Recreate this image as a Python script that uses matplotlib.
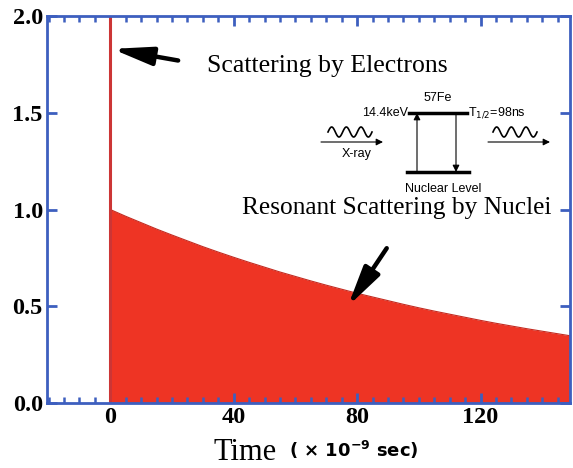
import numpy as np
import matplotlib
matplotlib.use("Agg")
import matplotlib.pyplot as plt
from matplotlib.patches import FancyArrowPatch

# ---- data ----
time_ns = [0, 5, 10, 15, 20, 25, 30, 35, 40, 45, 50, 55, 60, 65, 70, 75, 80,
           85, 90, 95, 100, 105, 110, 115, 120, 125, 130, 135, 140, 145, 150]
intensity = [1.00, 0.965, 0.932, 0.899, 0.868, 0.838, 0.808, 0.780, 0.753, 0.727,
             0.702, 0.677, 0.654, 0.631, 0.609, 0.588, 0.567, 0.548, 0.529, 0.510,
             0.492, 0.475, 0.459, 0.443, 0.427, 0.412, 0.398, 0.384, 0.371, 0.358,
             0.345]
electron_t = [0, 0]
electron_y = [0.0, 2.0]
x_ticks = [0, 40, 80, 120]
x_ticklabels = ['0', '40', '80', '120']
y_ticks = [0.0, 0.5, 1.0, 1.5, 2.0]
y_ticklabels = ['0.0', '0.5', '1.0', '1.5', '2.0']

W, H = 573, 468
fig = plt.figure(figsize=(W / 100, H / 100), dpi=100)
ax = fig.add_axes([47 / W, 1 - 403 / H, (570 - 47) / W, (403 - 16) / H])

blue = '#3d5fbf'
red_fill = '#ee3424'

ax.fill_between(time_ns, 0, intensity, color=red_fill, lw=0, zorder=1)
ax.plot(time_ns, intensity, color='#c42a20', lw=0.8, zorder=2)
ax.plot(electron_t, electron_y, color='#cc3535', lw=2.2, zorder=2)

ax.set_xlim(-20.5, 149)
ax.set_ylim(0, 2.0)
ax.set_xticks(x_ticks)
ax.set_yticks(y_ticks)
ax.set_xticks(np.arange(-20, 150, 5), minor=True)
ax.set_xticklabels(x_ticklabels)
ax.set_yticklabels(y_ticklabels)

for s in ax.spines.values():
    s.set_color(blue)
    s.set_linewidth(2)
ax.tick_params(which='major', direction='in', length=7, width=2, color=blue,
               top=True, right=True, pad=3)
ax.tick_params(which='minor', direction='in', length=4, width=1.8, color=blue,
               top=True, bottom=True)
ax.tick_params(axis='y', which='minor', left=False, right=False)

for lab in ax.get_xticklabels() + ax.get_yticklabels():
    lab.set_fontfamily('Liberation Serif')
    lab.set_fontweight('bold')
    lab.set_fontsize(17.5)

# x label composed of two parts
fig.text(245 / W, 1 - 452 / H, 'Time', fontfamily='Liberation Serif', fontsize=22,
         ha='center', va='center')
fig.text(354 / W, 1 - 450 / H, r'( × 10$^{\mathbf{-9}}$ sec)', fontfamily='DejaVu Sans',
         fontweight='bold', fontsize=13, ha='center', va='center')

# annotations
astyle = '-|>,head_length=2.4,head_width=0.55'
ax.annotate('', xy=(0.6, 1.83), xytext=(22, 1.77),
            arrowprops=dict(arrowstyle=astyle, color='black', lw=3.2,
                            shrinkA=0, shrinkB=0))
ax.annotate('', xy=(77, 0.50), xytext=(89.6, 0.80),
            arrowprops=dict(arrowstyle=astyle, color='black', lw=3.2,
                            shrinkA=0, shrinkB=0))

fig.text(207 / W, 1 - 66 / H, 'Scattering by Electrons', fontfamily='Liberation Serif',
         fontsize=18.5, ha='left', va='center')
fig.text(242 / W, 1 - 208 / H, 'Resonant Scattering by Nuclei', fontfamily='Liberation Serif',
         fontsize=18.3, ha='left', va='center')

# ---- inset level diagram (figure pixel coordinates) ----
def P(x, y):
    return (x / W, 1 - y / H)

tf = fig.transFigure
fig.lines.append(plt.Line2D(*zip(P(409, 113), P(467, 113)), transform=tf, color='black', lw=2.5))
fig.lines.append(plt.Line2D(*zip(P(407, 172), P(469, 172)), transform=tf, color='black', lw=2.5))
for (x0, y0, x1, y1) in [(417, 172, 417, 113), (456, 113, 456, 172),
                         (321, 142, 383, 142), (488, 142, 550, 142)]:
    fig.patches.append(FancyArrowPatch(P(x0, y0), P(x1, y1), transform=tf,
                                       arrowstyle='-|>,head_length=4,head_width=2',
                                       color='black', lw=0.8, shrinkA=0, shrinkB=0))
s = np.linspace(0, 3 * 2 * np.pi, 120)
for xs in (328, 493):
    xx = xs + s / (6 * np.pi) * 44
    yy = 132 - 5 * np.sin(s)
    fig.lines.append(plt.Line2D(xx / W, 1 - yy / H, transform=tf, color='black', lw=1.2))

sans = 'Liberation Sans'
fig.text(*P(438, 98), '57Fe', fontfamily=sans, fontsize=9, ha='center', va='center')
fig.text(*P(408, 113), '14.4keV', fontfamily=sans, fontsize=9, ha='right', va='center')
fig.text(*P(468, 113), r'T$_{1/2}$=98ns', fontfamily=sans, fontsize=9, ha='left', va='center')
fig.text(*P(357, 154), 'X-ray', fontfamily=sans, fontsize=9, ha='center', va='center')
fig.text(*P(443, 189), 'Nuclear Level', fontfamily=sans, fontsize=9, ha='center', va='center')

fig.savefig('out.png', dpi=100)
